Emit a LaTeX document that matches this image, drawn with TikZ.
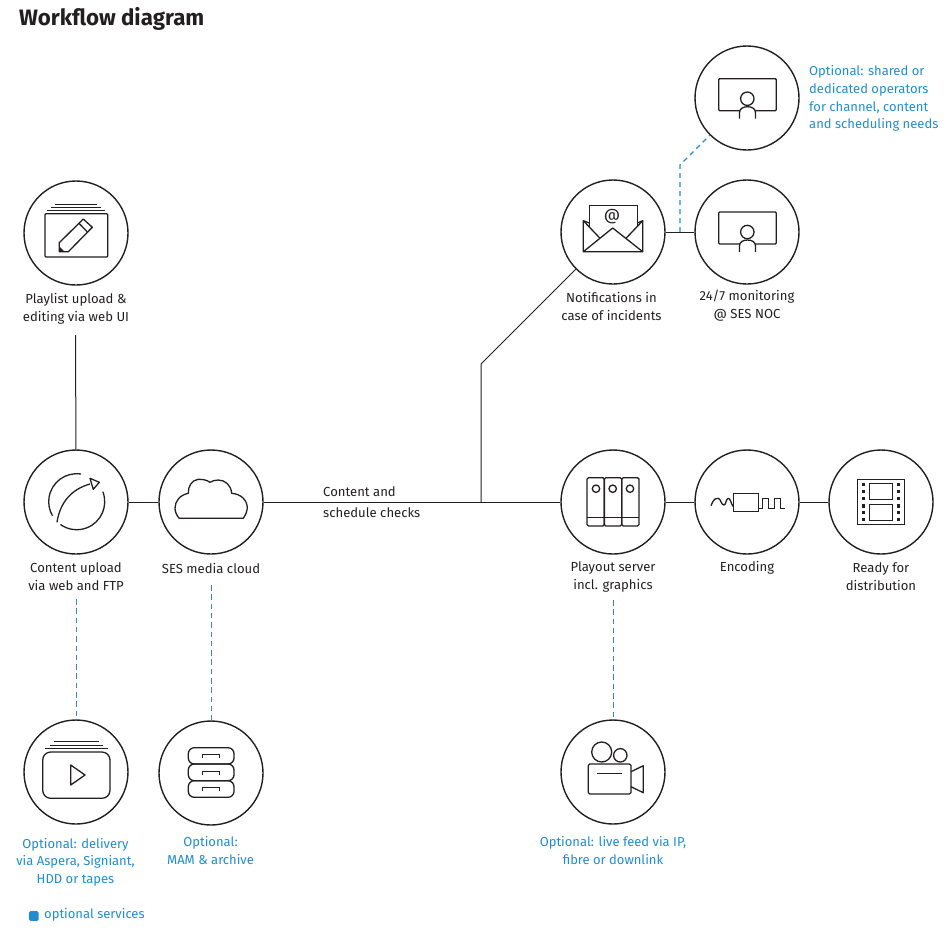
\documentclass[tikz,border=0pt]{standalone}
\usepackage{fontspec}
\setmainfont{Fira Sans}
\definecolor{ink}{HTML}{231F20}
\definecolor{optblue}{HTML}{1F8DD0}
\definecolor{dashblue}{HTML}{3C86B4}
\tikzset{
  x=1pt,y=-1pt,
  hub/.style={circle,draw=ink,line width=1.4pt,minimum size=104pt,inner sep=0pt,fill=white},
  link/.style={draw=ink,line width=1pt},
  optlink/.style={draw=optblue,line width=1.3pt,dash pattern=on 5pt off 4pt},
  greylink/.style={draw=dashblue,line width=.7pt,dash pattern=on 5.5pt off 3.8pt},
  ico/.style={draw=ink,line width=1.3pt,line join=round},
  thinico/.style={draw=ink,line width=.9pt},
  captxt/.style={font=\fontsize{13.1}{18}\selectfont,text=ink,align=center,inner sep=0pt},
  opttxt/.style={font=\fontsize{13}{17.7}\selectfont,text=optblue,align=center,inner sep=0pt},
}
\begin{document}
\begin{tikzpicture}
\useasboundingbox (0,0) rectangle (949,930);
\node[anchor=west,inner sep=0pt,font=\fontsize{22.3}{24}\selectfont\bfseries,text=ink] (title) at (19,18.5) {Workflow diagram};

\node[hub] (play) at (76,233) {};
\node[hub] (up) at (76,502) {};
\node[hub] (cloud) at (211,502) {};
\node[hub] (out) at (613,502) {};
\node[hub] (enc) at (747,502) {};
\node[hub] (ready) at (881,502) {};
\node[hub] (mail) at (613,232) {};
\node[hub] (noc) at (747,232) {};
\node[hub] (oper) at (747,98) {};
\node[hub] (deliv) at (76,772) {};
\node[hub] (mam) at (211,773) {};
\node[hub] (cam) at (613,772) {};

% captions
\node[captxt] (tplay) at (76,308.5) {Playlist upload \&\\editing via web UI};
\node[captxt] (tup) at (76,576.5) {Content upload\\via web and FTP};
\node[captxt] (tcloud) at (211,568) {SES media cloud};
\node[captxt,anchor=west,align=left,font=\fontsize{13.1}{21}\selectfont] (tchk) at (323,502) {Content and\\schedule checks};
\node[captxt] (tout) at (613,576.5) {Playout server\\incl. graphics};
\node[captxt] (tenc) at (747,568) {Encoding};
\node[captxt] (tready) at (881,576.5) {Ready for\\distribution};
\node[captxt] (tmail) at (611.5,306) {Notifications in\\case of incidents};
\node[captxt] (tnoc) at (747,306) {24/7 monitoring\\@ SES NOC};
\node[opttxt,anchor=west,align=left] (toper) at (809,98.5) {Optional: shared or\\dedicated operators\\for channel, content\\and scheduling needs};
\node[opttxt] (tdeliv) at (75.5,862) {Optional: delivery\\via Aspera, Signiant,\\HDD or tapes};
\node[opttxt] (tmam) at (210.5,850.5) {Optional:\\MAM \& archive};
\node[opttxt] (tcam) at (613,850.5) {Optional: live feed via IP,\\fibre or downlink};
\node[opttxt,anchor=west] (tleg) at (44,915) {optional services};
\node[fill=optblue,rounded corners=1.5pt,minimum size=9.7pt,inner sep=0pt] (legbox) at (33.8,916) {};

% connectors
\coordinate (j1) at (481,502);
\coordinate (j2) at (481,364);
\coordinate (j3) at (680,232);
\coordinate (j4) at (680,165);
\coordinate (p1) at (75.6,335);
\draw[link] (p1) -- (up);
\draw[link] (up) -- (cloud);
\draw[link] (cloud) -- (out);
\draw[link] (out) -- (enc);
\draw[link] (enc) -- (ready);
\draw[link] (mail) -- (noc);
\draw[link] (j1) -- (j2) -- (mail);
\draw[optlink] (j3) -- (j4) -- (oper);
\coordinate (d1) at (76,599);
\coordinate (d2) at (211,585);
\coordinate (d3) at (613,600);
\draw[greylink] (d1) -- (deliv);
\draw[greylink] (d2) -- (mam);
\draw[greylink] (d3) -- (cam);

% playlist icon
\draw[ico,rounded corners=1pt] (45,213.7) rectangle (107.7,257);
\draw[thinico] (55,204.3) -- (97,204.3) (51,207.3) -- (101,207.3) (47,210.3) -- (105,210.3);
\draw[ico] (59.3,251.7) -- (59.3,242.7) -- (83.3,219) -- (92.3,227.3) -- (68.3,251.7) -- cycle;
\draw[ico] (79,223.3) -- (87.7,232.3);
\fill[ink] (59.3,251.7) -- (59.3,246.5) -- (64.5,251.7) -- cycle;

% upload icon
\draw[ico] ([shift={(-81:28)}]76.7,501.7) arc (-81:-210:28);
\draw[ico] ([shift={(-21:28)}]76.7,501.7) arc (-21:125.5:28);
\draw[ico] (57,522.3) .. controls (60,502) and (72,489) .. (90,484);
\draw[ico] (90,478.3) -- (99.3,482.3) -- (93.3,489.3) -- cycle;

% cloud icon
\draw[ico] (179.3,518.3) -- (243.3,518.3) .. controls (246,514) and (247.3,511) .. (247.3,508.3)
 .. controls (247.3,500) and (241,494) .. (231.7,493.3) .. controls (231,485) and (225,480) .. (218.3,480)
 .. controls (215,480) and (212,481) .. (210,482.3) .. controls (207,480) and (203,479.3) .. (198.3,479.3)
 .. controls (192,480) and (188,486) .. (188.3,493.3) .. controls (180,495) and (175,501) .. (175,508.3)
 .. controls (175,512) and (177,516) .. (179.3,518.3) -- cycle;

% mail icon
\draw[thinico] (589.3,226.7) -- (589.3,205.3) -- (637.3,205.3) -- (637.3,226.7);
\node[inner sep=0pt,font=\fontsize{16}{16}\selectfont,text=ink] (atsign) at (612,216.5) {@};
\draw[ico] (589.3,223) -- (583.3,220.7) -- (583.3,251.7) -- (642.7,251.7) -- (642.7,220.7) -- (637.3,223);
\draw[ico] (583.3,251.7) -- (612.7,228) -- (642.7,251.7);
\draw[ico] (583.3,220.7) -- (600,238.3) (642.7,220.7) -- (626,238.3);

% monitor icons
\foreach \yy in {98.7,232}{
  \draw[ico,rounded corners=1pt] (718.7,\yy-20) rectangle (776.3,\yy+12);
  \draw[ico,fill=white] (747.3,\yy) circle (6.7);
  \fill[white] (739.5,\yy+20) -- (739.5,\yy+14) .. controls (739.5,\yy+10) and (743,\yy+8) .. (747.5,\yy+8) .. controls (752,\yy+8) and (755.5,\yy+10) .. (755.5,\yy+14) -- (755.5,\yy+20) -- cycle;
  \draw[ico] (739.5,\yy+20) -- (739.5,\yy+14) .. controls (739.5,\yy+10) and (743,\yy+8) .. (747.5,\yy+8) .. controls (752,\yy+8) and (755.5,\yy+10) .. (755.5,\yy+14) -- (755.5,\yy+20);
}

% server icon
\foreach \xa/\cx in {587/596,604.3/612.7,621.7/630}{
  \draw[ico,rounded corners=1.5pt] (\xa,477.7) rectangle (\xa+17.35,526);
  \draw[ico] (\cx,488.7) circle (3.7);
}
\draw[thinico] (587,517.3) -- (639,517.3);

% encoding icon
\draw[ico] (711,505.7) .. controls (714,498) and (716,498) .. (718.3,498.3) .. controls (721,499) and (721,505) .. (724,505) .. controls (726,505) and (726,498.3) .. (728.3,498.3) .. controls (730.5,498.3) and (731,504) .. (733.3,506.7);
\draw[thinico] (733.3,493.3) rectangle (758.7,511.3);
\draw[thinico] (758.7,508.3) -- (762,508.3) -- (762,498.3) -- (768.7,498.3) -- (768.7,508.3) -- (774,508.3) -- (774,498.3) -- (780,498.3) -- (780,508.3) -- (784.7,508.3);

% film icon
\draw[thinico] (857.3,479.3) rectangle (904.3,524.3);
\draw[thinico] (869.3,483.3) rectangle (892.7,499.3) (869.3,504) rectangle (892.7,520.7);
\foreach \py in {484.3,491.7,498.3,506,512.7,519.3}{
  \fill[ink] (861.6,\py-1.7) rectangle (865,\py+1.7);
  \fill[ink] (896.6,\py-1.7) rectangle (900,\py+1.7);
}

% delivery icon
\draw[thinico] (54,741.3) -- (99,741.3) (50,745) -- (103,745) (45,748.3) -- (108,748.3);
\draw[ico,rounded corners=8pt] (42.7,752) rectangle (110,798.3);
\draw[ico] (70.7,765) -- (85,775) -- (70.7,785) -- cycle;

% archive icon
\foreach \ya/\yb/\yc in {747.7/764/754,764/780.7/771,780.7/797.3/787}{
  \draw[ico,rounded corners=6pt] (188.3,\ya) rectangle (234,\yb);
  \draw[thinico] (202.3,\yc+3.7) -- (202.3,\yc) -- (219.7,\yc) -- (219.7,\yc+3.7);
}

% camera icon
\draw[ico] (601.7,752) circle (10);
\draw[ico] (620.3,755.3) circle (6.7);
\draw[ico,rounded corners=1.5pt] (588.3,764) rectangle (631,794);
\draw[thinico] (597,773) -- (622,773);
\draw[ico] (631,771.7) -- (643.3,765.7) -- (643.3,792.7) -- (631,786.7);
\end{tikzpicture}
\end{document}
